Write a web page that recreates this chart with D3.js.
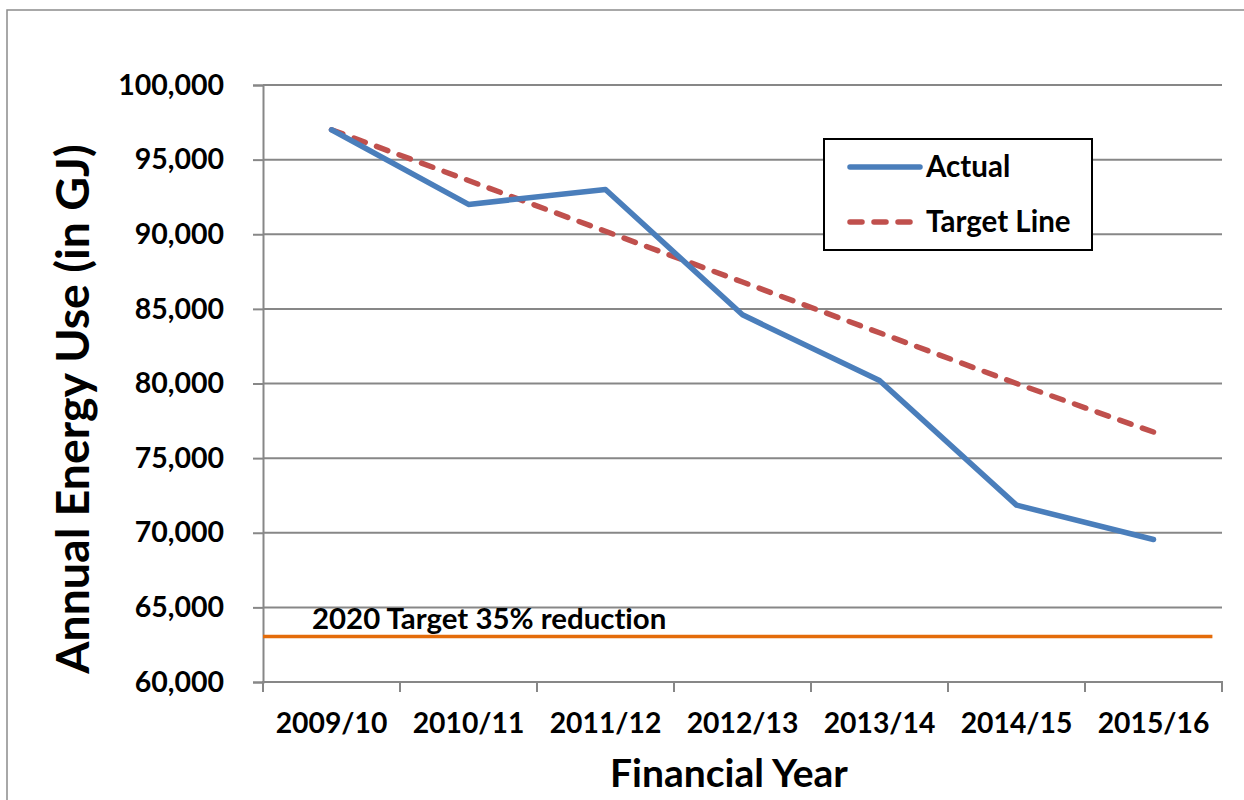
<!DOCTYPE html>
<html>
<head>
<meta charset="utf-8">
<script src="https://cdn.jsdelivr.net/npm/d3@7"></script>
<style>
  body { margin: 0; background: #fff; }
  svg { display: block; font-family: Lato, "Open Sans", sans-serif; font-weight: bold; font-variant-ligatures: none; }
</style>
</head>
<body>
<script>
const years = ['2009/10', '2010/11', '2011/12', '2012/13', '2013/14', '2014/15', '2015/16'];
const actual = [97000, 92000, 93000, 84600, 80200, 71850, 69550];
const targetLine = [97000, 93600, 90200, 86800, 83400, 80000, 76750];
const target2020 = 63050;
const yTicks = [60000, 65000, 70000, 75000, 80000, 85000, 90000, 95000, 100000];
const legendItems = ['Actual', 'Target Line'];

const W = 1244, H = 800;
const plot = { left: 263, right: 1222, top: 85, bottom: 682 };

const svg = d3.select('body').append('svg')
  .attr('width', W)
  .attr('height', H);

// outer chart border (runs off right/bottom)
svg.append('rect')
  .attr('x', 7).attr('y', 10)
  .attr('width', 1260).attr('height', 820)
  .attr('fill', '#fff')
  .attr('stroke', '#8c8c8c')
  .attr('stroke-width', 1.5);

const x = d3.scaleBand().domain(years).range([plot.left, plot.right]).padding(0);
const xi = d3.scaleLinear().domain([0, years.length]).range([plot.left, plot.right]);
const y = d3.scaleLinear().domain([60000, 100000]).range([plot.bottom, plot.top]);

// gridlines
svg.append('g')
  .selectAll('line')
  .data(yTicks.slice(1))
  .join('line')
  .attr('x1', plot.left).attr('x2', plot.right)
  .attr('y1', d => y(d)).attr('y2', d => y(d))
  .attr('stroke', '#878787')
  .attr('stroke-width', 2);

// y axis
const yAxis = svg.append('g')
  .attr('transform', `translate(${plot.left},0)`)
  .call(d3.axisLeft(y).tickValues(yTicks).tickSize(10).tickPadding(29).tickFormat(d3.format(',')));
yAxis.select('.domain').attr('stroke', '#878787').attr('stroke-width', 2);
yAxis.selectAll('.tick line').attr('stroke', '#878787').attr('stroke-width', 2);
yAxis.selectAll('.tick text')
  .attr('fill', '#000')
  .style('font-size', '28.5px')
  .style('font-family', 'Lato, sans-serif')
  .style('font-weight', 'bold');

// x axis
const xAxis = svg.append('g');
xAxis.append('line')
  .attr('x1', plot.left).attr('x2', plot.right)
  .attr('y1', plot.bottom).attr('y2', plot.bottom)
  .attr('stroke', '#878787').attr('stroke-width', 2);
xAxis.selectAll('.xtick')
  .data(d3.range(years.length + 1))
  .join('line')
  .attr('class', 'xtick')
  .attr('x1', d => xi(d)).attr('x2', d => xi(d))
  .attr('y1', plot.bottom - 1).attr('y2', plot.bottom + 10)
  .attr('stroke', '#878787').attr('stroke-width', 2);
xAxis.selectAll('.xlabel')
  .data(years)
  .join('text')
  .attr('class', 'xlabel')
  .attr('x', d => x(d) + x.bandwidth() / 2)
  .attr('y', 733)
  .attr('text-anchor', 'middle')
  .style('font-size', '28.3px')
  .text(d => d);

// 2020 target
svg.append('line')
  .attr('x1', xi(0)).attr('x2', xi(6.93))
  .attr('y1', y(target2020)).attr('y2', y(target2020))
  .attr('stroke', '#E46C0A')
  .attr('stroke-width', 3.5);
svg.append('text')
  .attr('x', 312).attr('y', 629)
  .style('font-size', '29.4px')
  .text('2020 Target 35% reduction');

const line = d3.line()
  .x((d, i) => x(years[i]) + x.bandwidth() / 2)
  .y(d => y(d));

svg.append('path')
  .datum(targetLine)
  .attr('d', line)
  .attr('fill', 'none')
  .attr('stroke', '#C0504D')
  .attr('stroke-width', 5.5)
  .attr('stroke-dasharray', '12,12')
  .attr('stroke-linecap', 'round');

svg.append('path')
  .datum(actual)
  .attr('d', line)
  .attr('fill', 'none')
  .attr('stroke', '#4A7EBB')
  .attr('stroke-width', 5.5)
  .attr('stroke-linejoin', 'round')
  .attr('stroke-linecap', 'round');

// legend
const legend = svg.append('g').attr('transform', 'translate(824,139)');
legend.append('rect')
  .attr('width', 268).attr('height', 111)
  .attr('fill', '#fff')
  .attr('stroke', '#000')
  .attr('stroke-width', 2);
legend.selectAll('.litem')
  .data(legendItems)
  .join('g')
  .attr('class', 'litem')
  .attr('transform', (d, i) => `translate(0, ${28 + i * 55})`)
  .each(function (d, i) {
    const g = d3.select(this);
    g.append('line')
      .attr('x1', 26).attr('x2', i === 0 ? 96 : 88)
      .attr('stroke', i === 0 ? '#4A7EBB' : '#C0504D')
      .attr('stroke-width', 5.5)
      .attr('stroke-linecap', 'round')
      .attr('stroke-dasharray', i === 0 ? null : '12,12');
    g.append('text')
      .attr('x', 102).attr('y', 10)
      .style('font-size', '29.5px')
      .text(d);
  });

// axis titles
svg.append('text')
  .attr('transform', 'translate(89,409) rotate(-90)')
  .attr('text-anchor', 'middle')
  .style('font-size', '46.5px')
  .text('Annual Energy Use (in GJ)');

svg.append('text')
  .attr('x', 729).attr('y', 787)
  .attr('text-anchor', 'middle')
  .style('font-size', '39px')
  .text('Financial Year');
</script>
</body>
</html>
